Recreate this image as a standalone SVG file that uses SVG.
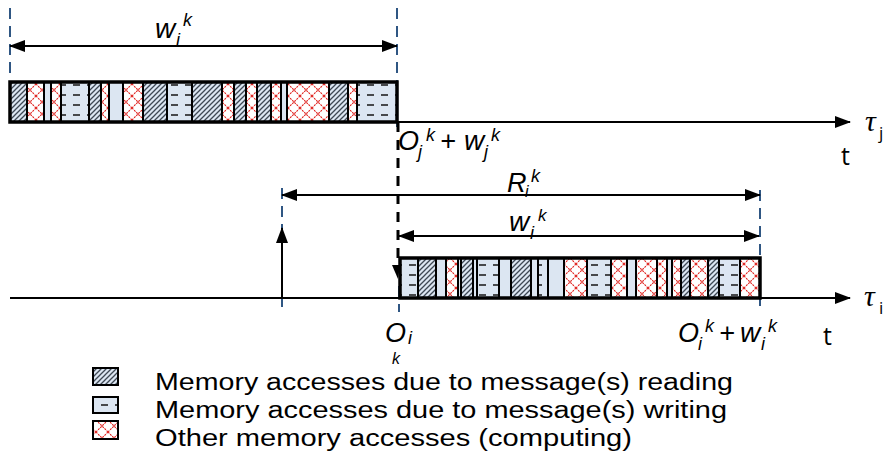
<svg xmlns="http://www.w3.org/2000/svg" width="885" height="466" viewBox="0 0 885 466">
<style>
.ax{stroke:#000;stroke-width:2;fill:none}
.bd{stroke:#2f5683;stroke-width:2;stroke-dasharray:11 7;fill:none}
.kd{stroke:#000;stroke-width:3;stroke-dasharray:10 8;fill:none}
.seg{stroke:#000;stroke-width:2}
.bar{fill:none;stroke:#000;stroke-width:3.5}
.it{font-family:"Liberation Sans",sans-serif;font-style:italic;fill:#000;font-size:27px}
.s{font-size:18px}
.tx{font-family:"Open Sans","Liberation Sans",sans-serif;fill:#000}
.lg{font-family:"Liberation Sans",sans-serif;fill:#000}
.tau{font-family:"Liberation Serif",serif;font-style:italic;fill:#000}
.sub{font-family:"Open Sans","Liberation Sans",sans-serif;font-style:normal;font-size:17px}
.r{fill:url(#pr)}.w{fill:url(#pw)}.c{fill:url(#pc)}.p{fill:#dce6f2}
</style>
<defs>
<pattern id="pr" width="5" height="5" patternUnits="userSpaceOnUse">
<rect width="5" height="5" fill="#dce6f2"/>
<path d="M-1,6 L6,-1 M-1,1 L1,-1 M4,6 L6,4" stroke="#3e4854" stroke-width="1.3"/>
</pattern>
<pattern id="pw" width="14" height="10" patternUnits="userSpaceOnUse">
<rect width="14" height="10" fill="#dce6f2"/>
<path d="M3,5 H10" stroke="#222" stroke-width="1.6"/>
</pattern>
<pattern id="pc" width="12" height="12" patternUnits="userSpaceOnUse">
<rect width="12" height="12" fill="#fff"/>
<path d="M0,0 L12,12 M12,0 L0,12" stroke="#e0201c" stroke-width="1.1" stroke-dasharray="2 1"/>
</pattern>
<marker id="ah" markerWidth="16" markerHeight="12" refX="15" refY="6" orient="auto-start-reverse" markerUnits="userSpaceOnUse">
<path d="M0,0 L16,6 L0,12 Z" fill="#000"/>
</marker>
</defs>

<g id="guides">
<line class="bd" x1="10" y1="8" x2="10" y2="80"/>
<line class="bd" x1="397" y1="8" x2="397" y2="130"/>
<line class="bd" x1="282" y1="188" x2="282" y2="310"/>
<line class="bd" x1="399" y1="286" x2="399" y2="312"/>
<line class="bd" x1="760" y1="190" x2="760" y2="306"/>
</g>

<g id="connectors">
<line class="ax" x1="10" y1="122" x2="850" y2="122" marker-end="url(#ah)"/>
<line class="ax" x1="10" y1="298" x2="850" y2="298" marker-end="url(#ah)"/>
<line class="ax" x1="10" y1="46" x2="397" y2="46" marker-start="url(#ah)" marker-end="url(#ah)"/>
<line class="ax" x1="282" y1="195" x2="760" y2="195" marker-start="url(#ah)" marker-end="url(#ah)"/>
<line class="ax" x1="399" y1="236" x2="759" y2="236" marker-start="url(#ah)" marker-end="url(#ah)"/>
<line class="ax" x1="282" y1="298" x2="282" y2="228" marker-end="url(#ah)"/>
<line class="kd" x1="398" y1="122" x2="398" y2="266"/>
<path d="M392,265 L400,265 L398,279 Z" fill="#000"/>
</g>

<g id="bar-j">
<rect class="seg r" x="10" y="82" width="17" height="40"/>
<rect class="seg c" x="27" y="82" width="17" height="40"/>
<rect class="seg p" x="44" y="82" width="7" height="40"/>
<rect class="seg c" x="51" y="82" width="10" height="40"/>
<rect class="seg w" x="61" y="82" width="28" height="40"/>
<rect class="seg r" x="89" y="82" width="12" height="40"/>
<rect class="seg c" x="101" y="82" width="8" height="40"/>
<rect class="seg p" x="109" y="82" width="14" height="40"/>
<rect class="seg c" x="123" y="82" width="20" height="40"/>
<rect class="seg r" x="143" y="82" width="24" height="40"/>
<rect class="seg w" x="167" y="82" width="25" height="40"/>
<rect class="seg r" x="192" y="82" width="30" height="40"/>
<rect class="seg c" x="222" y="82" width="12" height="40"/>
<rect class="seg r" x="234" y="82" width="12" height="40"/>
<rect class="seg c" x="246" y="82" width="11" height="40"/>
<rect class="seg r" x="257" y="82" width="14" height="40"/>
<rect class="seg c" x="271" y="82" width="10" height="40"/>
<rect class="seg p" x="281" y="82" width="6" height="40"/>
<rect class="seg c" x="287" y="82" width="42" height="40"/>
<rect class="seg r" x="329" y="82" width="19" height="40"/>
<rect class="seg c" x="348" y="82" width="9" height="40"/>
<rect class="seg w" x="357" y="82" width="40" height="40"/>
<rect class="bar" x="10" y="82" width="387" height="40"/>
</g>

<g id="bar-i">
<rect class="seg w" x="400" y="258" width="18" height="40"/>
<rect class="seg r" x="418" y="258" width="18" height="40"/>
<rect class="seg p" x="436" y="258" width="10" height="40"/>
<rect class="seg c" x="446" y="258" width="12" height="40"/>
<rect class="seg p" x="458" y="258" width="3" height="40"/>
<rect class="seg r" x="461" y="258" width="12" height="40"/>
<rect class="seg p" x="473" y="258" width="4" height="40"/>
<rect class="seg w" x="477" y="258" width="22" height="40"/>
<rect class="seg p" x="499" y="258" width="12" height="40"/>
<rect class="seg r" x="511" y="258" width="20" height="40"/>
<rect class="seg p" x="531" y="258" width="7" height="40"/>
<rect class="seg w" x="538" y="258" width="10" height="40"/>
<rect class="seg p" x="548" y="258" width="16" height="40"/>
<rect class="seg c" x="564" y="258" width="23" height="40"/>
<rect class="seg w" x="587" y="258" width="24" height="40"/>
<rect class="seg c" x="611" y="258" width="16" height="40"/>
<rect class="seg p" x="627" y="258" width="9" height="40"/>
<rect class="seg c" x="636" y="258" width="21" height="40"/>
<rect class="seg c" x="657" y="258" width="10" height="40"/>
<rect class="seg p" x="667" y="258" width="5" height="40"/>
<rect class="seg c" x="672" y="258" width="9" height="40"/>
<rect class="seg r" x="681" y="258" width="9" height="40"/>
<rect class="seg c" x="690" y="258" width="18" height="40"/>
<rect class="seg r" x="708" y="258" width="11" height="40"/>
<rect class="seg w" x="719" y="258" width="21" height="40"/>
<rect class="seg c" x="740" y="258" width="20" height="40"/>
<rect class="bar" x="400" y="258" width="360" height="40"/>
</g>

<g id="labels">
<text class="it"><tspan x="155" y="38" font-size="28">w</tspan><tspan class="s" x="176" y="46">i</tspan><tspan class="s" x="183" y="26">k</tspan></text>

<text class="it"><tspan x="398" y="150">O</tspan><tspan class="s" x="418" y="158">j</tspan><tspan class="s" x="426" y="141">k</tspan><tspan x="440" y="150">+</tspan><tspan x="464" y="150" font-size="28">w</tspan><tspan class="s" x="484" y="158">j</tspan><tspan class="s" x="491" y="141">k</tspan></text>

<text class="it"><tspan x="507" y="192">R</tspan><tspan x="525" y="197" font-size="16">i</tspan><tspan class="s" x="531" y="182">k</tspan></text>

<text class="it"><tspan x="509" y="231" font-size="28">w</tspan><tspan class="s" x="530" y="239">i</tspan><tspan x="538" y="221" font-size="17">k</tspan></text>

<text class="it"><tspan x="385" y="342">O</tspan><tspan class="s" x="408" y="344">i</tspan><tspan x="392" y="364" font-size="16">k</tspan></text>

<text class="it"><tspan x="678" y="342">O</tspan><tspan class="s" x="698" y="350">i</tspan><tspan class="s" x="705" y="332">k</tspan><tspan x="719" y="342">+</tspan><tspan x="740" y="342" font-size="28">w</tspan><tspan class="s" x="761" y="350">i</tspan><tspan class="s" x="768" y="332">k</tspan></text>

<text class="tau"><tspan x="865" y="131" font-size="30">τ</tspan><tspan class="sub" x="879" y="139">j</tspan></text>
<text class="tx" x="841" y="165" font-size="25">t</text>

<text class="tau"><tspan x="864" y="306" font-size="30">τ</tspan><tspan class="sub" x="879" y="314">i</tspan></text>
<text class="tx" x="823" y="345" font-size="25">t</text>
</g>

<g id="legend">
<rect class="r" x="93" y="368" width="25" height="17" stroke="#000" stroke-width="2"/>
<rect class="w" x="93" y="397" width="25" height="16" stroke="#000" stroke-width="2"/>
<rect class="c" x="93" y="421" width="25" height="18" stroke="#000" stroke-width="2"/>
<text class="lg" x="155" y="390" font-size="23" textLength="578" lengthAdjust="spacingAndGlyphs">Memory accesses due to message(s) reading</text>
<text class="lg" x="155" y="418" font-size="23" textLength="572" lengthAdjust="spacingAndGlyphs">Memory accesses due to message(s) writing</text>
<text class="lg" x="155" y="446" font-size="23" textLength="477" lengthAdjust="spacingAndGlyphs">Other memory accesses (computing)</text>
</g>
</svg>
